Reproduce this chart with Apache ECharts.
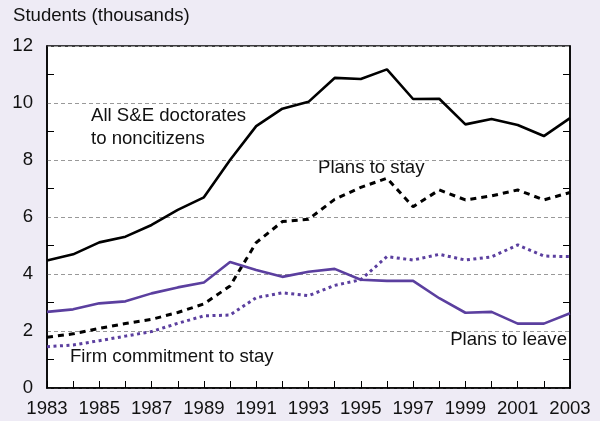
<!DOCTYPE html>
<html>
<head>
<meta charset="utf-8">
<script src="https://cdn.jsdelivr.net/npm/echarts@6/dist/echarts.min.js"></script>
<style>
  html, body { margin: 0; padding: 0; background: #eeebf5; }
  #chart { width: 600px; height: 421px; }
</style>
</head>
<body>
<div id="chart"></div>
<script>
// years on the x axis
const years = ['1983', '1984', '1985', '1986', '1987', '1988', '1989', '1990', '1991', '1992', '1993',
  '1994', '1995', '1996', '1997', '1998', '1999', '2000', '2001', '2002', '2003']

// thousands of students
const allDoctorates = [4.47, 4.69, 5.11, 5.31, 5.72, 6.25, 6.69, 8.0, 9.19, 9.8, 10.04,
  10.88, 10.84, 11.18, 10.14, 10.15, 9.25, 9.44, 9.23, 8.84, 9.47]
const plansToStay = [1.78, 1.9, 2.09, 2.26, 2.41, 2.65, 2.95, 3.58, 5.1, 5.84, 5.92,
  6.62, 7.04, 7.36, 6.36, 6.95, 6.6, 6.74, 6.95, 6.6, 6.86]
const firmCommitment = [1.45, 1.51, 1.66, 1.82, 1.98, 2.27, 2.53, 2.56, 3.17, 3.34, 3.24,
  3.6, 3.8, 4.61, 4.49, 4.69, 4.49, 4.6, 5.02, 4.63, 4.61]
const plansToLeave = [2.67, 2.76, 2.97, 3.04, 3.32, 3.53, 3.7, 4.42, 4.14, 3.9, 4.08,
  4.18, 3.8, 3.76, 3.76, 3.15, 2.64, 2.67, 2.26, 2.26, 2.62]

const purple = '#5b3f9f'
const font = '"Liberation Sans", Arial, Helvetica, sans-serif'
const fs = 18.6

const chart = echarts.init(document.getElementById('chart'))

function yAxisCfg(pos) {
  return {
    type: 'value',
    position: pos,
    min: 0,
    max: 12,
    interval: 2,
    axisLine: { show: true, lineStyle: { color: '#000', width: 1.5 } },
    axisTick: { show: false, inside: true },
    minorTick: { show: true, splitNumber: 2, length: 7, lineStyle: { color: '#000', width: 1 } },
    axisLabel: {
      show: pos === 'left',
      inside: false,
      color: '#111',
      fontSize: fs,
      fontFamily: font,
      margin: 14
    },
    splitLine: {
      show: pos === 'left',
      lineStyle: { color: '#999', type: [4, 3], width: 1 }
    },
    minorSplitLine: { show: false }
  }
}

chart.setOption({
  backgroundColor: '#eeebf5',
  animation: false,
  grid: {
    left: 47,
    right: 30,
    top: 46,
    bottom: 33,
    show: true,
    backgroundColor: '#fff',
    borderColor: '#000',
    borderWidth: 1.5
  },
  xAxis: {
    type: 'category',
    data: years,
    boundaryGap: false,
    axisLine: { lineStyle: { color: '#000', width: 1.5 } },
    axisTick: { inside: true, length: 7, interval: 0, lineStyle: { color: '#000', width: 1 } },
    axisLabel: {
      interval: 1,
      color: '#111',
      fontSize: fs,
      fontFamily: font,
      margin: 11
    }
  },
  yAxis: [yAxisCfg('left'), yAxisCfg('right')],
  graphic: [
    { type: 'text', left: 13, top: 6, style: { text: 'Students (thousands)', fontSize: fs, fontFamily: font, fill: '#111' } },
    { type: 'text', left: 91, top: 104, style: { text: 'All S&E doctorates\nto noncitizens', fontSize: fs, lineHeight: 23, fontFamily: font, fill: '#111' } },
    { type: 'text', left: 318, top: 158, style: { text: 'Plans to stay', fontSize: fs, fontFamily: font, fill: '#111' } },
    { type: 'text', left: 70, top: 347, style: { text: 'Firm commitment to stay', fontSize: fs, fontFamily: font, fill: '#111' } },
    { type: 'text', right: 33, top: 330, style: { text: 'Plans to leave', fontSize: fs, fontFamily: font, fill: '#111' } }
  ],
  series: [
    {
      name: 'All S&E doctorates to noncitizens',
      type: 'line',
      data: allDoctorates,
      symbol: 'none',
      lineStyle: { color: '#000', width: 2.6 }
    },
    {
      name: 'Plans to stay',
      type: 'line',
      data: plansToStay,
      symbol: 'none',
      lineStyle: { color: '#000', width: 3, type: [6, 5] }
    },
    {
      name: 'Firm commitment to stay',
      type: 'line',
      data: firmCommitment,
      symbol: 'none',
      lineStyle: { color: purple, width: 3, type: [3, 3.5] }
    },
    {
      name: 'Plans to leave',
      type: 'line',
      data: plansToLeave,
      symbol: 'none',
      lineStyle: { color: purple, width: 2.6 }
    }
  ]
})
</script>
</body>
</html>
